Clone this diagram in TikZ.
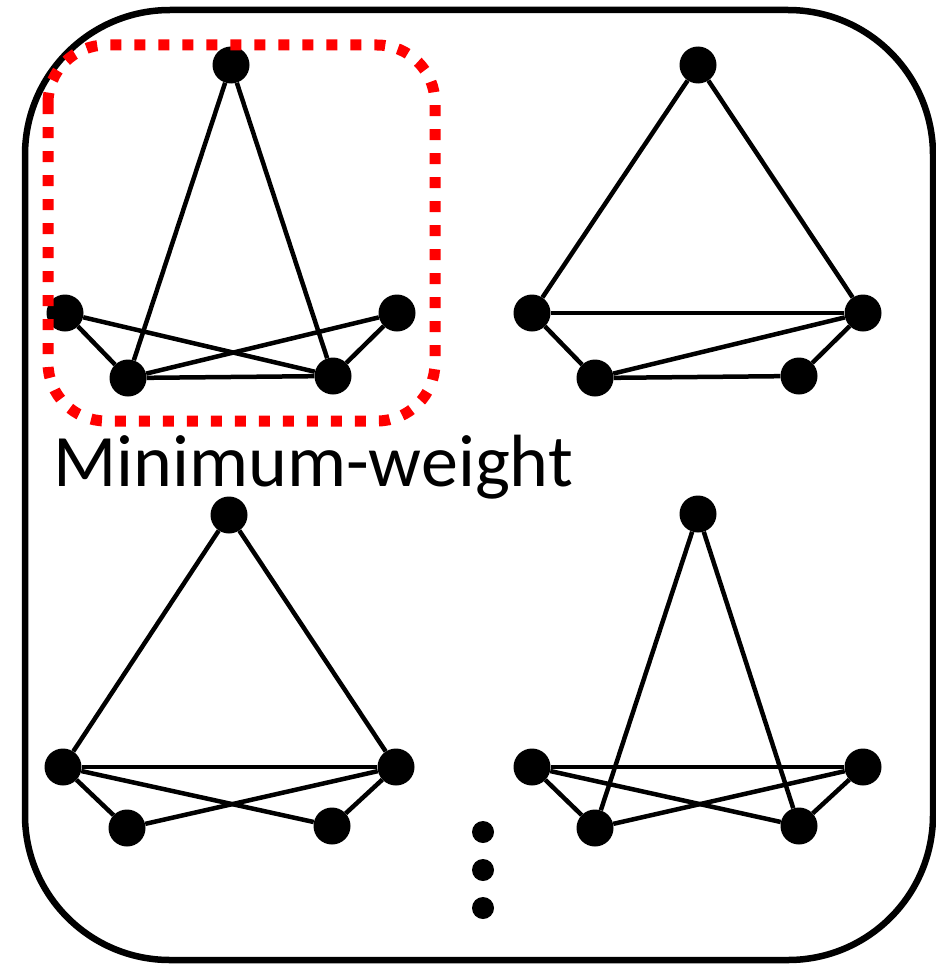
\documentclass[tikz,border=0pt]{standalone}
\usepackage{fontspec}
\setmainfont{Carlito}
\usepackage{tikz}
\usetikzlibrary{positioning}

\begin{document}
\begin{tikzpicture}[
  x=1pt, y=-1pt,
  vertex/.style={circle, fill=black, inner sep=0pt, minimum size=37pt},
  dotmark/.style={circle, fill=black, inner sep=0pt, minimum size=22pt},
  link/.style={line width=4.5pt},
  outerbox/.style={line width=6.5pt, rounded corners=145pt},
  pickbox/.style={red, line width=11pt, rounded corners=58pt,
                  dash pattern=on 11pt off 13pt},
  label/.style={font=\fontsize{74}{89}\selectfont, inner sep=0pt}
]
\useasboundingbox (0,0) rectangle (935,966);

%% Frame
\draw[outerbox] (25,10) rectangle (933,960);

%% Graph 1 (top left)
\node[vertex] (a1) at (231, 65)  {};
\node[vertex] (a2) at (65, 313)  {};
\node[vertex] (a3) at (397, 313) {};
\node[vertex] (a4) at (128, 378) {};
\node[vertex] (a5) at (333, 376) {};
\draw[link] (a1) -- (a4);
\draw[link] (a1) -- (a5);
\draw[link] (a2) -- (a4);
\draw[link] (a2) -- (a5);
\draw[link] (a3) -- (a4);
\draw[link] (a3) -- (a5);
\draw[link] (a4) -- (a5);

%% Graph 2 (top right)
\node[vertex] (b1) at (698, 65)  {};
\node[vertex] (b2) at (532, 313) {};
\node[vertex] (b3) at (863, 313) {};
\node[vertex] (b4) at (595, 378) {};
\node[vertex] (b5) at (799, 376) {};
\draw[link] (b1) -- (b2);
\draw[link] (b1) -- (b3);
\draw[link] (b2) -- (b3);
\draw[link] (b2) -- (b4);
\draw[link] (b4) -- (b3);
\draw[link] (b4) -- (b5);
\draw[link] (b5) -- (b3);

%% Graph 3 (bottom left)
\node[vertex] (c1) at (229, 515) {};
\node[vertex] (c2) at (63, 767)  {};
\node[vertex] (c3) at (396, 767) {};
\node[vertex] (c4) at (127, 828) {};
\node[vertex] (c5) at (332, 826) {};
\draw[link] (c1) -- (c2);
\draw[link] (c1) -- (c3);
\draw[link] (c2) -- (c3);
\draw[link] (c2) -- (c4);
\draw[link] (c2) -- (c5);
\draw[link] (c3) -- (c4);
\draw[link] (c3) -- (c5);

%% Graph 4 (bottom right)
\node[vertex] (d1) at (698, 514) {};
\node[vertex] (d2) at (532, 767) {};
\node[vertex] (d3) at (863, 767) {};
\node[vertex] (d4) at (595, 828) {};
\node[vertex] (d5) at (799, 826) {};
\draw[link] (d1) -- (d4);
\draw[link] (d1) -- (d5);
\draw[link] (d2) -- (d3);
\draw[link] (d2) -- (d4);
\draw[link] (d2) -- (d5);
\draw[link] (d3) -- (d4);
\draw[link] (d3) -- (d5);

%% Highlight and caption
\draw[pickbox] (48,45) rectangle (435,421);
\node[label, anchor=base west] (cap) at (53,486) {Minimum-weight};

%% More graphs
\node[dotmark] (m1) at (483, 832) {};
\node[dotmark] (m2) at (483, 870) {};
\node[dotmark] (m3) at (483, 908) {};

\end{tikzpicture}
\end{document}
